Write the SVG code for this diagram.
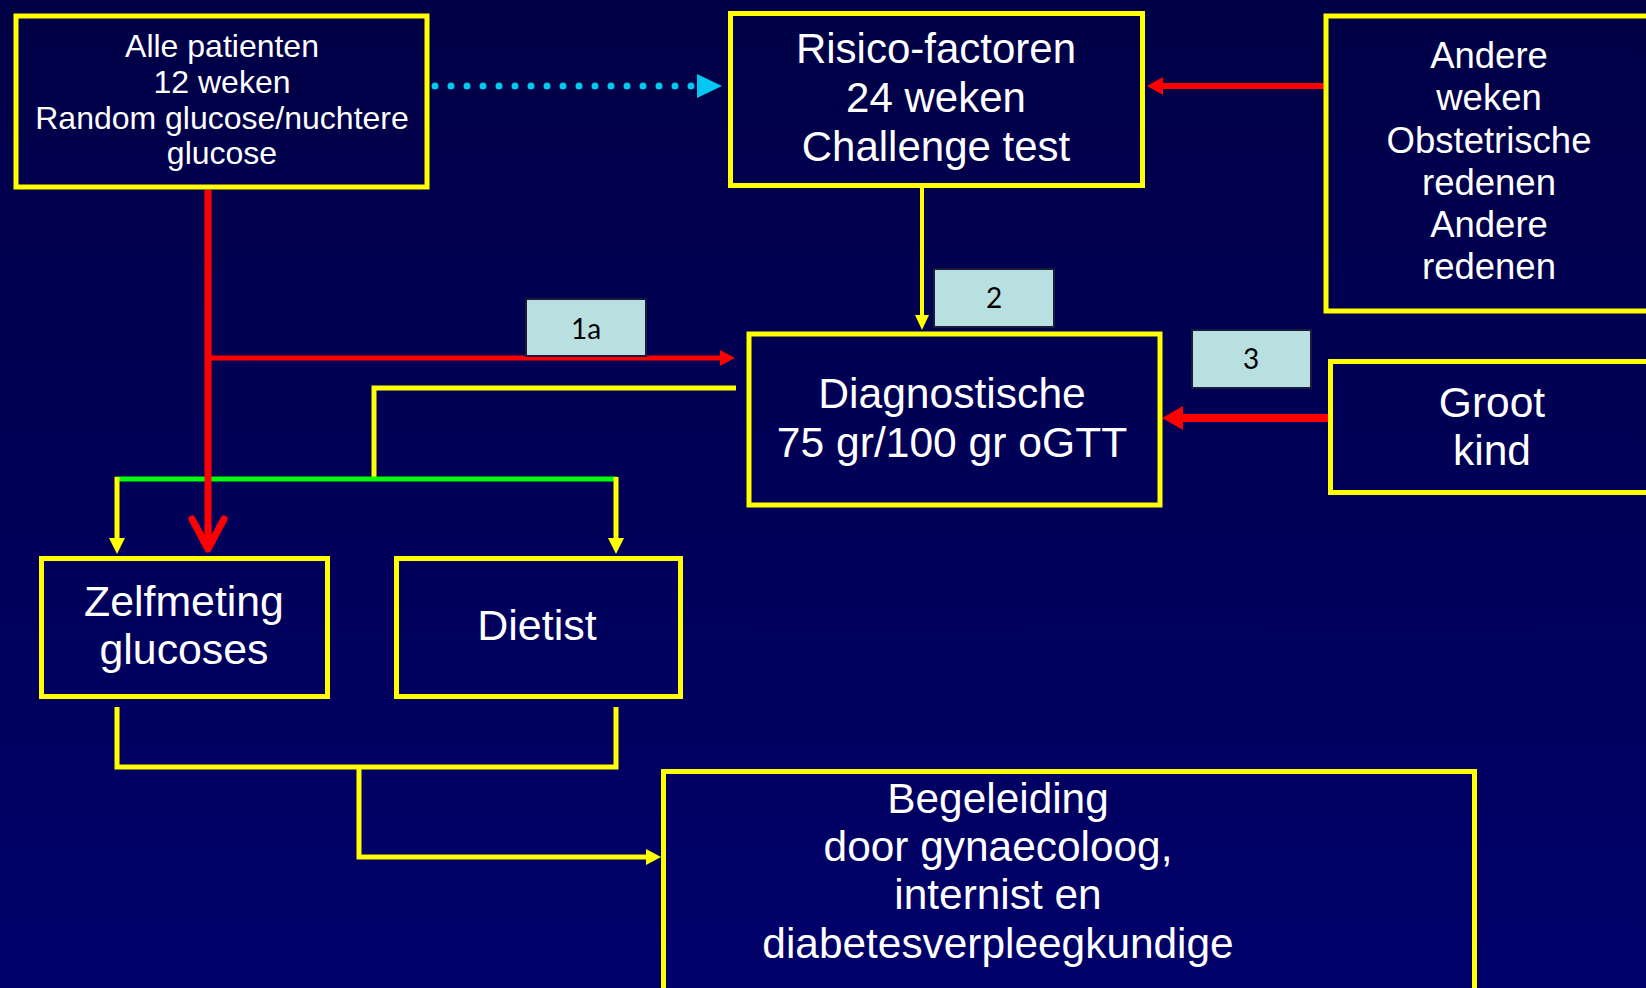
<svg xmlns="http://www.w3.org/2000/svg" width="1646" height="988" viewBox="0 0 1646 988">
<defs>
<linearGradient id="bg" x1="0" y1="0" x2="0" y2="1">
<stop offset="0" stop-color="#000046"/>
<stop offset="1" stop-color="#00006A"/>
</linearGradient>
<style>
.box{fill:none;stroke:#FFFF00;stroke-width:5}
.t{fill:#FFFFFF;font-family:"Liberation Sans",Arial,sans-serif;text-anchor:middle}
.lbl{fill:#B8E0E0;stroke:#1A1A3A;stroke-width:2}
.lt{fill:#000000;font-family:Lato,"Noto Sans",sans-serif;font-size:28px;text-anchor:middle}
.y{fill:none;stroke:#FFFF00;stroke-width:5}
.r{fill:none;stroke:#FF0000}
</style>
</defs>
<rect x="0" y="0" width="1646" height="988" fill="url(#bg)"/>

<g id="connectors">
<line x1="435" y1="86" x2="692" y2="86" stroke="#00C8F0" stroke-width="7" stroke-linecap="round" stroke-dasharray="0 16"/>
<polygon points="697,74 722,86 697,98" fill="#00C8F0"/>
<line class="r" x1="1324" y1="86" x2="1160" y2="86" stroke-width="6"/>
<polygon points="1147,86 1163,77 1163,95" fill="#FF0000"/>
<line x1="922" y1="188" x2="922" y2="318" stroke="#FFFF00" stroke-width="4"/>
<polygon points="915,315 929,315 922,330" fill="#FFFF00"/>
<polyline class="y" points="736,388 374,388 374,479"/>
<line x1="115" y1="479" x2="617" y2="479" stroke="#00FF00" stroke-width="5"/>
<line class="y" x1="117" y1="477" x2="117" y2="540"/>
<polygon points="109,538 125,538 117,554" fill="#FFFF00"/>
<line class="y" x1="616" y1="477" x2="616" y2="540"/>
<polygon points="608,538 624,538 616,554" fill="#FFFF00"/>
<line class="r" x1="1328" y1="418" x2="1180" y2="418" stroke-width="8"/>
<polygon points="1162,418 1183,406 1183,430" fill="#FF0000"/>
<line class="r" x1="208" y1="358" x2="722" y2="358" stroke-width="5"/>
<polygon points="735,358 720,350 720,366" fill="#FF0000"/>
<line class="r" x1="208" y1="190" x2="208" y2="548" stroke-width="7"/>
<polyline class="r" points="192,519 208,549 224,519" stroke-width="7" stroke-linejoin="round" stroke-linecap="round"/>
<polyline class="y" points="117,707 117,767 616,767 616,707"/>
<polyline class="y" points="359,767 359,857 648,857"/>
<polygon points="646,849 646,865 661,857" fill="#FFFF00"/>
</g>

<g id="node-alle">
<rect class="box" x="16" y="16" width="411" height="171"/>
<text class="t" font-size="32"><tspan x="222" y="57">Alle patienten</tspan><tspan x="222" y="93">12 weken</tspan><tspan x="222" y="129">Random glucose/nuchtere</tspan><tspan x="222" y="164">glucose</tspan></text>
</g>

<g id="node-risico">
<rect class="box" x="730.5" y="13.5" width="412" height="172" stroke-width="4"/>
<text class="t" font-size="42"><tspan x="936" y="63">Risico-factoren</tspan><tspan x="936" y="112">24 weken</tspan><tspan x="936" y="161">Challenge test</tspan></text>
</g>

<g id="node-andere">
<rect class="box" x="1326" y="16" width="400" height="295"/>
<text class="t" font-size="36.5"><tspan x="1489" y="68">Andere</tspan><tspan x="1489" y="110">weken</tspan><tspan x="1489" y="153">Obstetrische</tspan><tspan x="1489" y="195">redenen</tspan><tspan x="1489" y="237">Andere</tspan><tspan x="1489" y="279">redenen</tspan></text>
</g>

<g id="node-diag">
<rect class="box" x="749" y="334" width="411" height="171"/>
<text class="t" font-size="42.6"><tspan x="952" y="408">Diagnostische</tspan><tspan x="952" y="457">75 gr/100 gr oGTT</tspan></text>
</g>

<g id="node-groot">
<rect class="box" x="1330.5" y="361.5" width="400" height="131"/>
<text class="t" font-size="42.5"><tspan x="1492" y="417">Groot</tspan><tspan x="1492" y="465">kind</tspan></text>
</g>

<g id="node-zelf">
<rect class="box" x="41.5" y="558.5" width="286" height="138"/>
<text class="t" font-size="42.8"><tspan x="184" y="616">Zelfmeting</tspan><tspan x="184" y="664">glucoses</tspan></text>
</g>

<g id="node-dietist">
<rect class="box" x="396.5" y="558.5" width="284" height="138"/>
<text class="t" font-size="43" x="537" y="640">Dietist</text>
</g>

<g id="node-begeleiding">
<rect class="box" x="663.5" y="771.5" width="811" height="240"/>
<text class="t" font-size="42.4"><tspan x="998" y="813">Begeleiding</tspan><tspan x="998" y="861">door gynaecoloog,</tspan><tspan x="998" y="909">internist en</tspan><tspan x="998" y="958">diabetesverpleegkundige</tspan></text>
</g>

<g id="label-1a">
<rect class="lbl" x="526" y="299" width="120" height="57"/>
<text class="lt" x="586" y="339">1a</text>
</g>
<g id="label-2">
<rect class="lbl" x="934" y="269" width="120" height="58"/>
<text class="lt" x="994" y="308">2</text>
</g>
<g id="label-3">
<rect class="lbl" x="1192" y="330" width="119" height="58"/>
<text class="lt" x="1251" y="369">3</text>
</g>
</svg>
